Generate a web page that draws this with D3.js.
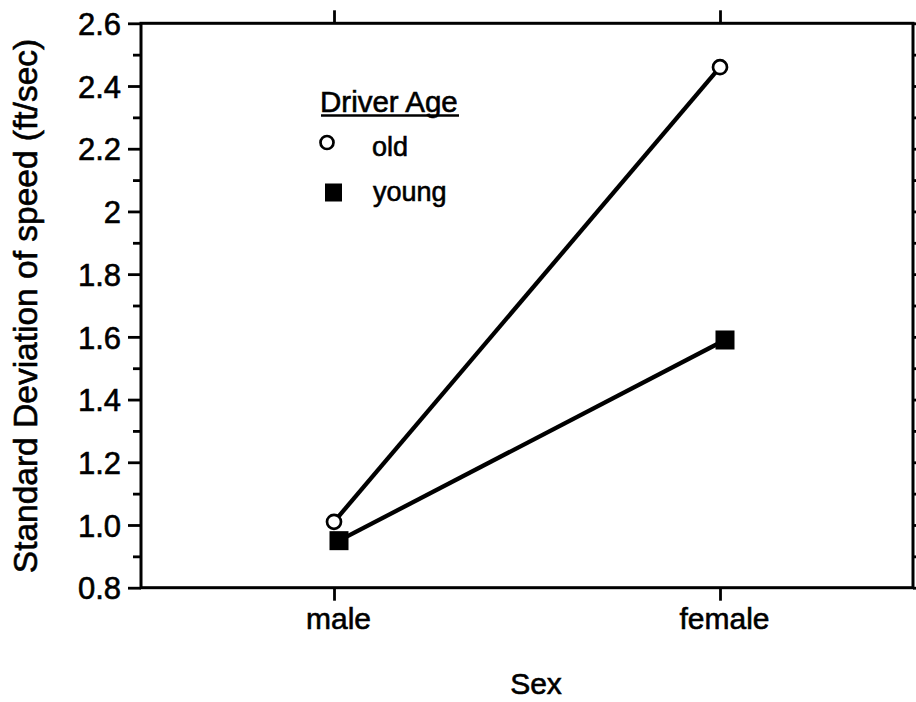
<!DOCTYPE html>
<html>
<head>
<meta charset="utf-8">
<script src="https://cdn.jsdelivr.net/npm/d3@7"></script>
<style>
  html, body { margin: 0; padding: 0; background: #fff; }
  svg { display: block; }
  text { font-family: "Liberation Sans", Arial, Helvetica, sans-serif; fill: #000; stroke: #000; stroke-width: 0.6px; }
</style>
</head>
<body>
<svg id="chart" width="916" height="702"></svg>
<script>
// Sex categories along the x axis
const categories = ["male", "female"];

// Standard deviation of speed (ft/sec) by driver age group
const oldValues = [1.01, 2.46];
const youngValues = [0.95, 1.59];

const seriesNames = ["old", "young"];

// Y axis ticks and their printed labels
const majorTicks = [0.8, 1.0, 1.2, 1.4, 1.6, 1.8, 2.0, 2.2, 2.4, 2.6];
const majorTickLabels = ["0.8", "1.0", "1.2", "1.4", "1.6", "1.8", "2", "2.2", "2.4", "2.6"];
const minorTicks = [0.9, 1.1, 1.3, 1.5, 1.7, 1.9, 2.1, 2.3, 2.5];

const svg = d3.select("#chart");

const plot = { left: 141, right: 913, top: 23.3, bottom: 587.7 };

const x = d3.scalePoint()
  .domain(categories)
  .range([plot.left, plot.right])
  .padding(0.5);

const y = d3.scaleLinear()
  .domain([0.8, 2.6])
  .range([plot.bottom, plot.top]);

// Left axis: major ticks with labels, then unlabeled minor ticks
const leftMajor = svg.append("g")
  .attr("transform", `translate(${plot.left},0)`)
  .call(d3.axisLeft(y).tickValues(majorTicks)
    .tickFormat((d, i) => majorTickLabels[i])
    .tickSize(13).tickPadding(8));
const leftMinor = svg.append("g")
  .attr("transform", `translate(${plot.left},0)`)
  .call(d3.axisLeft(y).tickValues(minorTicks).tickFormat("").tickSize(8));

// Right axis mirrors the ticks outward, without labels
const rightMajor = svg.append("g")
  .attr("transform", `translate(${plot.right},0)`)
  .call(d3.axisRight(y).tickValues(majorTicks).tickFormat("").tickSize(13));
const rightMinor = svg.append("g")
  .attr("transform", `translate(${plot.right},0)`)
  .call(d3.axisRight(y).tickValues(minorTicks).tickFormat("").tickSize(8));

// Bottom axis with category labels, top axis with bare ticks
const bottomAxis = svg.append("g")
  .attr("transform", `translate(0,${plot.bottom})`)
  .call(d3.axisBottom(x).tickSize(13).tickPadding(24));
const topAxis = svg.append("g")
  .attr("transform", `translate(0,${plot.top})`)
  .call(d3.axisTop(x).tickFormat("").tickSize(13));

[leftMajor, leftMinor, rightMajor, rightMinor, bottomAxis, topAxis].forEach(g => {
  g.select(".domain").remove();
  g.selectAll(".tick line").attr("stroke", "#000").attr("stroke-width", 2.8);
});
leftMajor.selectAll(".tick text")
  .style("font-size", "31px")
  .attr("x", -20)
  .attr("dy", "0.36em");
bottomAxis.selectAll(".tick text")
  .style("font-size", "30px")
  .attr("dx", 4)
  .attr("dy", "0.15em");

// Plot frame
svg.append("rect")
  .attr("x", plot.left).attr("y", plot.top)
  .attr("width", plot.right - plot.left)
  .attr("height", plot.bottom - plot.top)
  .attr("fill", "none")
  .attr("stroke", "#000")
  .attr("stroke-width", 3);

// Axis titles
svg.append("text")
  .attr("transform", `translate(37,306) rotate(-90)`)
  .attr("text-anchor", "middle")
  .style("font-size", "33.5px")
  .text("Standard Deviation of speed (ft/sec)");

svg.append("text")
  .attr("x", 536).attr("y", 694)
  .attr("text-anchor", "middle")
  .style("font-size", "30px")
  .text("Sex");

// Series lines and markers
const youngDodge = 5;
const oldPts = categories.map((c, i) => [x(c), y(oldValues[i])]);
const youngPts = categories.map((c, i) => [x(c) + youngDodge, y(youngValues[i])]);

const line = d3.line();
svg.append("path")
  .attr("d", line(youngPts))
  .attr("fill", "none").attr("stroke", "#000").attr("stroke-width", 4.3);
svg.append("path")
  .attr("d", line(oldPts))
  .attr("fill", "none").attr("stroke", "#000").attr("stroke-width", 4.3);

const sq = 19;
svg.selectAll("rect.young")
  .data(youngPts)
  .enter().append("rect")
  .attr("class", "young")
  .attr("x", d => d[0] - sq / 2)
  .attr("y", d => d[1] - sq / 2)
  .attr("width", sq).attr("height", sq)
  .attr("fill", "#000");

svg.selectAll("circle.old")
  .data(oldPts)
  .enter().append("circle")
  .attr("class", "old")
  .attr("cx", d => d[0]).attr("cy", d => d[1])
  .attr("r", 7)
  .attr("fill", "#fff")
  .attr("stroke", "#000")
  .attr("stroke-width", 2.7);

// Legend
const legend = svg.append("g");
legend.append("text")
  .attr("x", 320).attr("y", 111.7)
  .style("font-size", "29.5px")
  .text("Driver Age");
legend.append("line")
  .attr("x1", 321).attr("x2", 459)
  .attr("y1", 115.5).attr("y2", 115.5)
  .attr("stroke", "#000").attr("stroke-width", 2.4);

legend.append("circle")
  .attr("cx", 327).attr("cy", 142.5).attr("r", 6.5)
  .attr("fill", "#fff").attr("stroke", "#000").attr("stroke-width", 2.7);
legend.append("text")
  .attr("x", 372).attr("y", 156)
  .style("font-size", "27px")
  .text(seriesNames[0]);

legend.append("rect")
  .attr("x", 325).attr("y", 183.5).attr("width", 17).attr("height", 18)
  .attr("fill", "#000");
legend.append("text")
  .attr("x", 373).attr("y", 201)
  .style("font-size", "27px")
  .text(seriesNames[1]);
</script>
</body>
</html>
